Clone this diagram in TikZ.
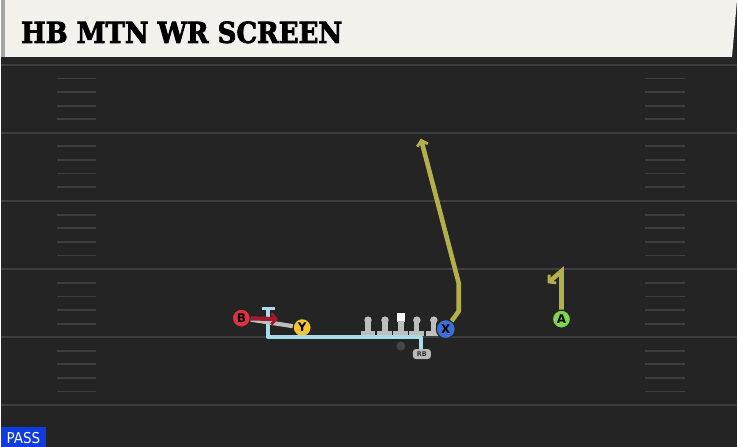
\documentclass[tikz,border=0pt]{standalone}
\usepackage{fontspec}
\setmainfont{DejaVu Sans}
\newfontfamily\titlefont[BoldFeatures={FakeBold=2.5}]{DejaVu Serif Condensed}
\newfontfamily\tagfont{DejaVu Sans Condensed}
\usetikzlibrary{calc,arrows.meta}
\definecolor{field}{HTML}{242424}
\definecolor{yardline}{HTML}{3E3E3E}
\definecolor{banner}{HTML}{F3F1EB}
\definecolor{redp}{HTML}{E0323E}
\definecolor{redroute}{HTML}{A3182F}
\definecolor{yellowp}{HTML}{F4C531}
\definecolor{bluep}{HTML}{3C6FD7}
\definecolor{greenp}{HTML}{7ED64B}
\definecolor{olive}{HTML}{B3B04B}
\definecolor{skyroute}{HTML}{A8DCEA}
\definecolor{oline}{HTML}{BEBEBE}
\definecolor{passblue}{HTML}{0C3CE2}

\begin{document}
\begin{tikzpicture}[x=1pt,y=-1pt,
	player/.style={circle,draw=black!85,line width=1.1pt,minimum size=18pt,inner sep=0,font=\bfseries\fontsize{12}{12}\selectfont},
	head/.style={circle,fill=oline,minimum size=7.5pt,inner sep=0},
	route/.style={line width=4.6pt,line join=round},
	yard/.style={yardline,line width=2pt},
	hash/.style={yardline,line width=1.8pt}]
	\tikzset{>={Straight Barb[length=5pt,width=11pt,line width=2.8pt]}}
	\fill [field] (0,0) rectangle (738,448);
	\fill [black!85] (0,56) rectangle (738,62);
	\fill [banner] (0,0) -- (738,0) -- (733,57) -- (0,57) -- cycle;
	\fill [gray!70] (0,0) rectangle (4,57);
	\node [anchor=base west, inner sep=0, font=\titlefont\bfseries\fontsize{29}{29}\selectfont] (title) at (20,43) {HB MTN WR SCREEN};

	\foreach \y in {65,133,201.5,270,338,406.5}
		\draw [yard] (0,\y) -- (738,\y);
	\foreach \y in {65,133,201.5,270,338}
		\foreach \d in {13.7,27.3,41,54.6} {
			\draw [hash] (56,\y+\d) -- (95,\y+\d);
			\draw [hash] (646,\y+\d) -- (686,\y+\d);
		}

	\foreach \px in {368,385,417,434} {
		\node [head] (h\px) at (\px,321) {};
		\fill [oline] ($(h\px)+(-2.6,2)$) rectangle ($(h\px)+(2.6,11.5)$);
		\fill [oline] ($(h\px)+(-7.5,11)$) rectangle ($(h\px)+(7.5,16)$);
	}
	\node [fill=white, minimum size=8.5pt, inner sep=0] (ctr) at (401,318.3) {};
	\fill [oline] ($(ctr)+(-2.6,4)$) rectangle ($(ctr)+(2.6,14)$);
	\fill [oline] ($(ctr)+(-7.5,13.7)$) rectangle ($(ctr)+(7.5,18.7)$);
	\node [circle, fill=gray!55!black, minimum size=9pt, inner sep=0] (qb) at (401,347) {};

	\node [player, fill=redp] (B) at (241,319) {B};
	\node [player, fill=yellowp] (Y) at (302,328.5) {Y};
	\node [player, fill=bluep, minimum size=19pt] (X) at (446,330) {X};
	\node [player, fill=greenp] (A) at (562,320) {A};
	\node [fill=gray!55, rounded corners=3pt, minimum width=18pt, minimum height=10pt, inner sep=0, font=\bfseries\fontsize{6.5}{6.5}\selectfont, text=black!80] (RB) at (422,355) {RB};

	\coordinate (rbturn) at (421,338);
	\coordinate (yturn) at (268,338);
	\coordinate (blk) at (268,307.5);
	\coordinate (xb1) at (459,312);
	\coordinate (xb2) at (459,284);
	\coordinate (xend) at (421,139);
	\coordinate (atop) at (562,272);
	\coordinate (aend) at (548,284);
	\coordinate (bend) at (278,320);

	\draw [route, line width=4.2pt, skyroute, -{Bar[width=13pt,line width=3.5pt]}] (RB.north -| rbturn) -- (rbturn) -- (yturn) -- (blk);
	\draw [route, line width=4.2pt, oline] (B) -- (Y);
	\draw [route, line width=4.2pt, redroute, ->] (B) -- (bend);
	\draw [route, olive, ->] (X) -- (xb1) -- (xb2) -- (xend);
	\draw [route, olive, line join=miter, ->] (A) -- (atop) -- (aend);

	\fill [passblue] (0,428) rectangle (45,448);
	\node [text=white, inner sep=0, font=\tagfont\fontsize{15}{15}\selectfont] (pass) at (22.5,439) {PASS};
\end{tikzpicture}
\end{document}
